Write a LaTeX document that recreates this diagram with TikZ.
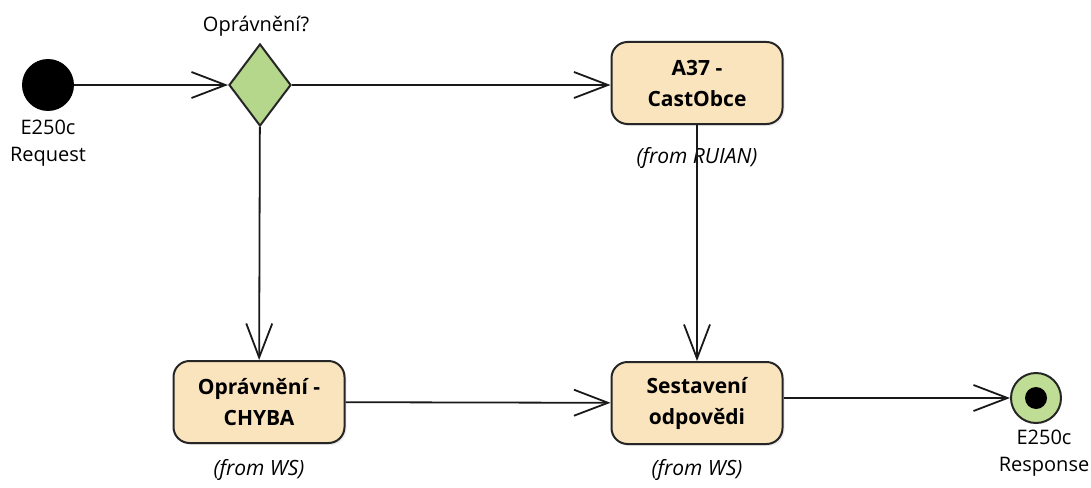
\documentclass[tikz,border=0pt]{standalone}
\usepackage{fontspec}
\setmainfont{Open Sans}
\usepackage{xcolor}
\usetikzlibrary{arrows.meta,shapes.geometric,shadows}
\definecolor{actfill}{RGB}{250,228,190}
\definecolor{decfill}{RGB}{181,215,140}
\definecolor{endfill}{RGB}{192,221,149}

\begin{document}
\begin{tikzpicture}[x=1pt, y=-1pt,
      font=\fontsize{20}{27}\selectfont,
      action/.style={rectangle, rounded corners=16pt, draw=black!85, line width=2pt,
        fill=actfill, minimum width=171pt, minimum height=82pt, align=center,
        font=\fontsize{21}{31}\selectfont\bfseries,
        drop shadow={shadow xshift=2pt, shadow yshift=-2pt, opacity=0.15}},
      decision/.style={diamond, draw=black!85, line width=2pt, fill=decfill,
        minimum width=62pt, minimum height=82pt, inner sep=0pt, aspect=0.75},
      flow/.style={draw=black!90, line width=1.8pt,
        -{Straight Barb[length=34pt, width=26pt, line width=1.8pt]}},
      note/.style={font=\fontsize{21}{27}\selectfont\itshape}
      ]
      \useasboundingbox (0,0) rectangle (1091,487);
      % start and end
      \node[circle, fill=black, minimum size=52pt, inner sep=0pt] (request) at (48,85) {};
      \node[align=center] (requestlbl) at (48,143) {E250c\\Request};
      \node[circle, draw=black!85, line width=2pt, fill=endfill, minimum size=50pt, inner sep=0pt] (response) at (1036,398) {};
      \node[circle, fill=black, minimum size=22pt, inner sep=0pt] (responsedot) at (response) {};
      \node[align=center] (responselbl) at (1044,453) {E250c\\Response};
      % decision
      \node[decision] (opravneni) at (260,85) {};
      \node (opravnenilbl) at (256,26) {Oprávnění?};
      % actions
      \node[action] (castobce) at (697,83) {A37 -\\CastObce};
      \node[note] (castobcenote) at (697,158) {(from RUIAN)};
      \node[action] (chyba) at (259,402) {Oprávnění -\\CHYBA};
      \node[note] (chybanote) at (259,470) {(from WS)};
      \node[action] (sestaveni) at (697,403) {Sestavení\\odpovědi};
      \node[note] (sestaveninote) at (697,470) {(from WS)};
      % flows
      \draw[flow] (request) -- (opravneni);
      \draw[flow] (opravneni) -- (castobce.west |- opravneni);
      \draw[flow] (opravneni) -- (chyba);
      \draw[flow] (castobce) -- (sestaveni);
      \draw[flow] (chyba) -- (sestaveni);
      \draw[flow] (sestaveni.east |- response) -- (response);
    \end{tikzpicture}
\end{document}
